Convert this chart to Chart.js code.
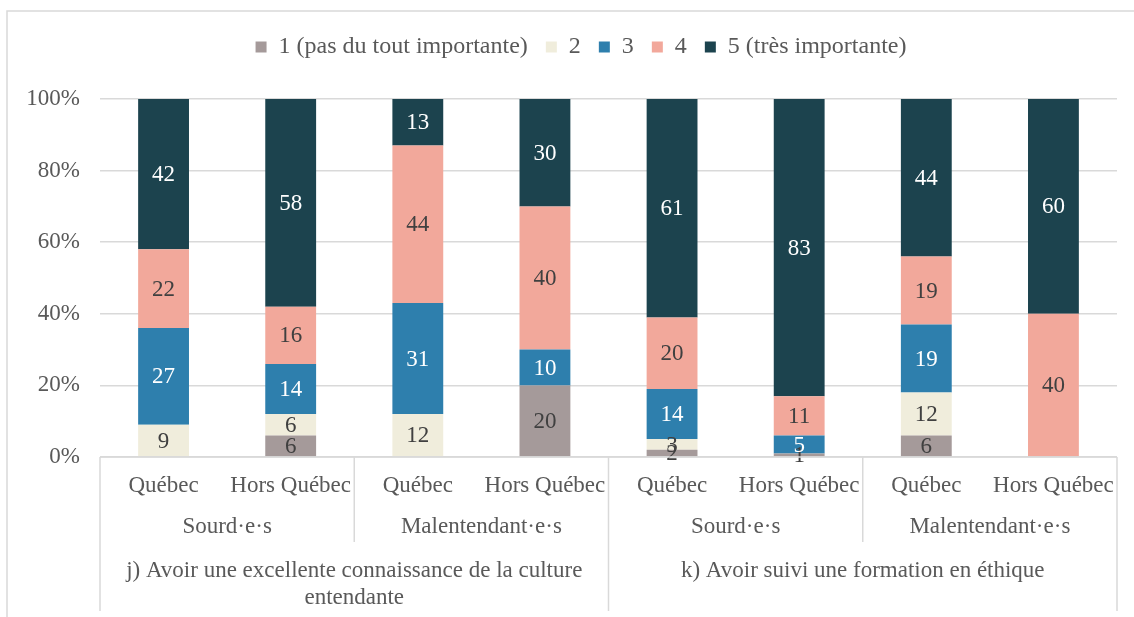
<!DOCTYPE html>
<html>
<head>
<meta charset="utf-8">
<script src="https://cdn.jsdelivr.net/npm/chart.js@4/dist/chart.umd.min.js"></script>
<style>
  html, body { margin: 0; padding: 0; background: #fff; }
  #wrap { width: 1134px; height: 617px; position: relative; }
</style>
</head>
<body>
<div id="wrap"><canvas id="chart" width="1134" height="617"></canvas></div>
<script>
// categories (3 levels)
const categories = ['Québec', 'Hors Québec', 'Québec', 'Hors Québec', 'Québec', 'Hors Québec', 'Québec', 'Hors Québec'];
const groups = ['Sourd·e·s', 'Malentendant·e·s', 'Sourd·e·s', 'Malentendant·e·s'];
const topics = [
    ['j) Avoir une excellente connaissance de la culture', 'entendante'],
    ['k) Avoir suivi une formation en éthique']
];

// series (percent)
const seriesNames = ['1 (pas du tout importante)', '2', '3', '4', '5 (très importante)'];
const s1 = [0, 6, 0, 20, 2, 1, 6, 0];
const s2 = [9, 6, 12, 0, 3, 0, 12, 0];
const s3 = [27, 14, 31, 10, 14, 5, 19, 0];
const s4 = [22, 16, 44, 40, 20, 11, 19, 40];
const s5 = [42, 58, 13, 30, 61, 83, 44, 60];

const yTicks = [0, 20, 40, 60, 80, 100];

const colors = ['#A59A9A', '#F0EDDC', '#2E7FAD', '#F2A89B', '#1C434E'];
const labelColors = ['#404040', '#404040', '#ffffff', '#404040', '#ffffff'];
const FONT = '"Liberation Serif", "Times New Roman", serif';
const GRID = '#d9d9d9';

const allSeries = [s1, s2, s3, s4, s5];

const legendShift = {
    id: 'legendShift',
    beforeInit(chart) {
        const legend = chart.legend;
        const origFit = legend.fit;
        legend.fit = function () {
            origFit.call(this);
            this.height += 30;
        };
    },
    afterLayout(chart) {
        chart.legend.left += 45;
    }
};

const frame = {
    id: 'frame',
    beforeDraw(chart) {
        const ctx = chart.ctx;
        ctx.save();
        ctx.strokeStyle = GRID;
        ctx.lineWidth = 1.5;
        ctx.beginPath();
        ctx.moveTo(7, 617);
        ctx.lineTo(7, 11);
        ctx.lineTo(1134, 11);
        ctx.stroke();
        ctx.restore();
    }
};

const barLabels = {
    id: 'barLabels',
    afterDatasetsDraw(chart) {
        const ctx = chart.ctx;
        ctx.save();
        ctx.font = '23px ' + FONT;
        ctx.textAlign = 'center';
        ctx.textBaseline = 'middle';
        chart.data.datasets.forEach((ds, di) => {
            const meta = chart.getDatasetMeta(di);
            meta.data.forEach((bar, i) => {
                const v = ds.data[i];
                if (!v) return;
                ctx.fillStyle = labelColors[di];
                ctx.fillText(String(v), bar.x, (bar.y + bar.base) / 2 + 1);
            });
        });
        ctx.restore();
    }
};

const multiAxis = {
    id: 'multiAxis',
    afterDraw(chart) {
        const ctx = chart.ctx;
        const x = chart.scales.x;
        const y0 = chart.chartArea.bottom;
        const half = (x.getPixelForValue(1) - x.getPixelForValue(0)) / 2;
        const edge = i => x.getPixelForValue(i) - half;
        ctx.save();
        ctx.strokeStyle = GRID;
        ctx.lineWidth = 1.5;
        ctx.beginPath();
        ctx.moveTo(chart.chartArea.left, y0);
        ctx.lineTo(chart.chartArea.right, y0);
        // outer and topic separators
        [0, 4, 8].forEach(i => {
            ctx.moveTo(edge(i), y0);
            ctx.lineTo(edge(i), y0 + 154);
        });
        // group separators
        [2, 6].forEach(i => {
            ctx.moveTo(edge(i), y0);
            ctx.lineTo(edge(i), y0 + 85);
        });
        ctx.stroke();

        ctx.font = '23px ' + FONT;
        ctx.fillStyle = '#595959';
        ctx.textAlign = 'center';
        ctx.textBaseline = 'middle';
        categories.forEach((c, i) => ctx.fillText(c, x.getPixelForValue(i), y0 + 29));
        groups.forEach((g, gi) => {
            const cx = (x.getPixelForValue(gi * 2) + x.getPixelForValue(gi * 2 + 1)) / 2;
            ctx.fillText(g, cx, y0 + 70);
        });
        topics.forEach((lines, ti) => {
            const cx = (x.getPixelForValue(ti * 4) + x.getPixelForValue(ti * 4 + 3)) / 2;
            lines.forEach((l, li) => ctx.fillText(l, cx, y0 + 114 + li * 27));
        });
        ctx.restore();
    }
};

new Chart(document.getElementById('chart'), {
    type: 'bar',
    data: {
        labels: categories,
        datasets: allSeries.map((d, i) => ({
            label: seriesNames[i],
            data: d,
            backgroundColor: colors[i],
            borderWidth: 0,
            barPercentage: 0.4,
            categoryPercentage: 1
        }))
    },
    options: {
        responsive: false,
        animation: false,
        maintainAspectRatio: false,
        layout: { padding: { top: 17, left: 0, right: 17, bottom: 160 } },
        plugins: {
            legend: {
                position: 'top',
                labels: {
                    font: { family: FONT, size: 24 },
                    color: '#595959',
                    boxWidth: 11,
                    boxHeight: 11,
                    padding: 18
                }
            },
            tooltip: { enabled: false }
        },
        scales: {
            x: {
                stacked: true,
                display: false
            },
            y: {
                stacked: true,
                min: 0,
                max: 100,
                afterFit(scale) { scale.width = 100; },
                afterBuildTicks(scale) { scale.ticks = yTicks.map(v => ({ value: v })); },
                ticks: {
                    font: { family: FONT, size: 23 },
                    color: '#595959',
                    padding: 20,
                    callback: v => v + '%'
                },
                grid: { color: GRID, lineWidth: 1.5, drawTicks: false },
                border: { display: false }
            }
        }
    },
    plugins: [legendShift, frame, barLabels, multiAxis]
});
</script>
</body>
</html>
